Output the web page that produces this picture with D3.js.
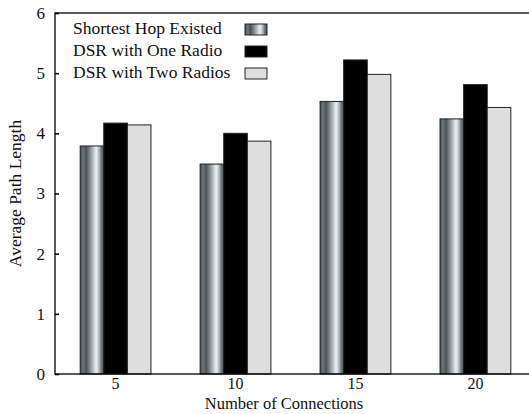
<!DOCTYPE html>
<html>
<head>
<meta charset="utf-8">
<script src="https://cdn.jsdelivr.net/npm/d3@7"></script>
<style>
  body { margin: 0; background: #fff; }
  text { font-family: "Liberation Serif", "Times New Roman", serif; fill: #111; }
</style>
</head>
<body>
<div id="container"></div>
<script>
/* 1. DATA */
const connections = ["5", "10", "15", "20"];
const seriesNames = ["Shortest Hop Existed", "DSR with One Radio", "DSR with Two Radios"];
const shortestHop = [3.79, 3.49, 4.53, 4.24];
const dsrOneRadio = [4.17, 4.00, 5.22, 4.81];
const dsrTwoRadios = [4.14, 3.87, 4.98, 4.43];
const yTicks = [0, 1, 2, 3, 4, 5, 6];

const series = [shortestHop, dsrOneRadio, dsrTwoRadios];

/* 2. LAYOUT */
const width = 529, height = 414;
const margin = {top: 13, right: -7, bottom: 40, left: 55};
const plotRight = width - margin.right,
      plotBottom = height - margin.bottom;
const serif = "'Liberation Serif', 'Times New Roman', serif";

const svg = d3.select("#container")
  .append("svg")
  .attr("width", width)
  .attr("height", height);

// metallic stripe fill for the first series
const defs = svg.append("defs");
const grad = defs.append("linearGradient")
  .attr("id", "metal")
  .attr("x1", "0").attr("x2", "1").attr("y1", "0").attr("y2", "0");
[[0, "#3f484c"], [0.12, "#6e767a"], [0.25, "#4a5357"], [0.4, "#7f878b"],
 [0.55, "#b9c0c4"], [0.68, "#eef2f5"], [0.8, "#b3babe"], [0.9, "#6b7377"], [1, "#485155"]]
  .forEach(s => grad.append("stop").attr("offset", s[0]).attr("stop-color", s[1]));

const fills = ["url(#metal)", "#000000", "#dedede"];

/* 3. SCALES */
const xScale = d3.scaleBand()
  .domain(connections)
  .range([margin.left, plotRight])
  .paddingInner(0.41)
  .paddingOuter(0.21);

const xSub = d3.scaleBand()
  .domain(d3.range(series.length))
  .range([0, xScale.bandwidth()]);

const yScale = d3.scaleLinear()
  .domain([0, 6])
  .range([plotBottom, margin.top]);

/* 4. BARS */
series.forEach((vals, si) => {
  svg.append("g")
    .selectAll("rect")
    .data(vals)
    .join("rect")
    .attr("x", (d, i) => xScale(connections[i]) + xSub(si))
    .attr("y", d => yScale(d))
    .attr("width", xSub.bandwidth())
    .attr("height", d => yScale(0) - yScale(d))
    .attr("fill", fills[si])
    .attr("stroke", "#222")
    .attr("stroke-width", 1);
});

/* 5. AXES */
const yAxis = d3.axisLeft(yScale)
  .tickValues(yTicks)
  .tickFormat(d3.format("d"))
  .tickSize(-4)
  .tickPadding(10);
svg.append("g")
  .attr("transform", `translate(${margin.left},0)`)
  .call(yAxis)
  .call(g => g.select(".domain").remove())
  .call(g => g.selectAll("line").attr("stroke", "#000").attr("stroke-width", 1.5))
  .call(g => g.selectAll("text").attr("font-size", 17).style("font-family", serif));

const xAxis = d3.axisBottom(xScale).tickSize(0).tickPadding(4);
svg.append("g")
  .attr("transform", `translate(0,${plotBottom})`)
  .call(xAxis)
  .call(g => g.select(".domain").remove())
  .call(g => g.selectAll("text").attr("font-size", 16).style("font-family", serif));

// frame
svg.append("rect")
  .attr("x", margin.left)
  .attr("y", margin.top)
  .attr("width", plotRight - margin.left)
  .attr("height", plotBottom - margin.top)
  .attr("fill", "none")
  .attr("stroke", "#000")
  .attr("stroke-width", 1.3);

// axis titles
svg.append("text")
  .attr("x", 284)
  .attr("y", height - 5)
  .attr("text-anchor", "middle")
  .attr("font-size", 16.5)
  .text("Number of Connections");

svg.append("text")
  .attr("transform", `translate(21,${(margin.top + plotBottom) / 2}) rotate(-90)`)
  .attr("text-anchor", "middle")
  .attr("font-size", 17.5)
  .text("Average Path Length");

/* 6. LEGEND */
const legend = svg.append("g").attr("transform", "translate(73,34)");
seriesNames.forEach((name, i) => {
  const row = legend.append("g").attr("transform", `translate(0,${i * 22})`);
  row.append("text")
    .attr("x", 0)
    .attr("y", 0)
    .attr("font-size", 17.5)
    .text(name);
  row.append("rect")
    .attr("x", 172)
    .attr("y", -10)
    .attr("width", 22)
    .attr("height", 11)
    .attr("fill", fills[i])
    .attr("stroke", "#222")
    .attr("stroke-width", 1);
});
</script>
</body>
</html>
